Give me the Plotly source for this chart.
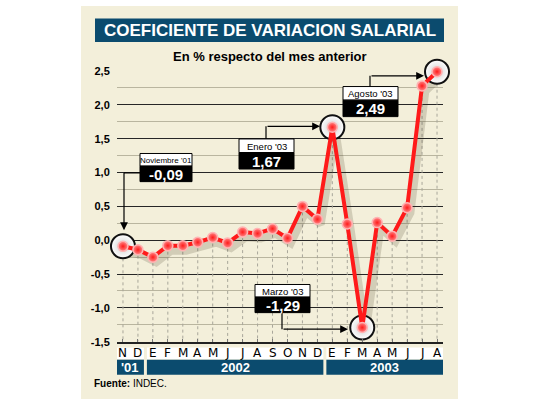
import plotly.graph_objects as go

# ---------------- data ----------------
months = ["N", "D", "E", "F", "M", "A", "M", "J", "J", "A", "S", "O",
          "N", "D", "E", "F", "M", "A", "M", "J", "J", "A"]
values = [-0.09, -0.14, -0.25, -0.08, -0.08, -0.03, 0.04, -0.04, 0.12, 0.10, 0.17, 0.03,
          0.50, 0.31, 1.67, 0.24, -1.29, 0.26, 0.06, 0.48, 2.28, 2.49]
years = ["'01", "2002", "2003"]
year_first = [0, 2, 14]
year_last = [1, 13, 21]
highlight_idx = [0, 14, 16, 21]
highlight_labels = ["Noviembre '01", "Enero '03", "Marzo '03", "Agosto '03"]
y_tickvals = [-1.5, -1.0, -0.5, 0.0, 0.5, 1.0, 1.5, 2.0, 2.5]
y_ticktext = ["-1,5", "-1,0", "-0,5", "0,0", "0,5", "1,0", "1,5", "2,0", "2,5"]

title = "COEFICIENTE DE VARIACION SALARIAL"
subtitle = "En % respecto del mes anterior"
source = "<b>Fuente:</b> INDEC."

# ---------------- styling ----------------
W, H = 540, 405
BEIGE = "#f3efda"
NAVY = "#0b4b6e"
RED = "#ff1a1a"
SANS = "Liberation Sans, Arial, sans-serif"
VERD = "DejaVu Sans, Verdana, sans-serif"


def fx(p):
    return p / W


def fy(p):
    return 1 - p / H


x = list(range(len(values)))
fmt = lambda v: f"{v:.2f}".replace(".", ",")

fig = go.Figure()

# vertical dashed drop lines from each point
dx, dy = [], []
for i, v in zip(x, values):
    dx += [i, i, None]
    dy += [v, y_tickvals[0], None]
fig.add_trace(go.Scatter(x=dx, y=dy, mode="lines",
                         line=dict(color="#a8a69a", width=1, dash="3px,3px"),
                         hoverinfo="skip", showlegend=False))

# shadow of the line
fig.add_trace(go.Scatter(x=[i + 0.22 for i in x], y=[v - 0.075 for v in values], mode="lines",
                         line=dict(color="rgba(60,50,30,0.18)", width=8),
                         hoverinfo="skip", showlegend=False, cliponaxis=False))

# highlight circles
fig.add_trace(go.Scatter(x=[x[i] for i in highlight_idx], y=[values[i] for i in highlight_idx],
                         mode="markers", cliponaxis=False,
                         marker=dict(size=24, color="#ffffff",
                                     gradient=dict(type="radial", color="#cfcfcf"),
                                     line=dict(color="#111111", width=2)),
                         hoverinfo="skip", showlegend=False))

# main line
fig.add_trace(go.Scatter(x=x, y=values, mode="lines+markers", cliponaxis=False,
                         line=dict(color=RED, width=4),
                         marker=dict(size=10, color="#ff8a8a",
                                     gradient=dict(type="radial", color="#ff1a1a"),
                                     line=dict(color="#ffb3b3", width=1.5)),
                         showlegend=False))

shapes = []
annotations = []

# beige panel
shapes.append(dict(type="rect", xref="paper", yref="paper", x0=fx(81), x1=fx(458), y0=0, y1=1,
                   fillcolor=BEIGE, line=dict(width=0), layer="below"))
# title bar
shapes.append(dict(type="rect", xref="paper", yref="paper", x0=fx(95), x1=fx(444), y0=fy(37), y1=fy(13),
                   fillcolor=NAVY, line=dict(width=0)))
annotations.append(dict(text=title, xref="paper", yref="paper", x=fx(269.5), y=fy(25.5),
                        showarrow=False, xanchor="center", yanchor="middle",
                        font=dict(family=SANS, size=17, color="white", weight="bold")))
annotations.append(dict(text=subtitle, xref="paper", yref="paper", x=fx(269.5), y=fy(52),
                        showarrow=False, xanchor="center", yanchor="middle",
                        font=dict(family=SANS, size=13, color="black", weight="bold")))

# month row + year boxes
for lab, a, b in zip(years, year_first, year_last):
    x0 = a - 0.4
    x1 = b + 0.4
    shapes.append(dict(type="rect", xref="x", yref="paper", x0=x0, x1=x1, y0=fy(364), y1=fy(352),
                       fillcolor="white", line=dict(width=0)))
    shapes.append(dict(type="rect", xref="x", yref="paper", x0=x0, x1=x1, y0=fy(380), y1=fy(364.5),
                       fillcolor=NAVY, line=dict(width=0)))
    annotations.append(dict(text=lab, xref="x", yref="paper", x=(x0 + x1) / 2, y=fy(372.5),
                            showarrow=False, xanchor="center", yanchor="middle",
                            font=dict(family=SANS, size=13, color="white", weight="bold")))
for i, m in zip(x, months):
    annotations.append(dict(text=m, xref="x", yref="paper", x=i, y=fy(358),
                            showarrow=False, xanchor="center", yanchor="middle",
                            font=dict(family=VERD, size=12, color="black")))

annotations.append(dict(text=source, xref="paper", yref="paper", x=fx(92), y=fy(389.5),
                        showarrow=False, xanchor="left", yanchor="middle",
                        font=dict(family=SANS, size=10, color="black")))

# callouts: box (x0, x1, ytop, ymid, ybot), elbow segment start/corner, arrow tip (pixels)
callouts = [
    dict(b=(140, 192, 152, 165, 181), s=(140, 172), c=(124, 172), t=(124, 231)),
    dict(b=(239, 294, 137, 151, 168), s=(266, 137), c=(266, 124), t=(320, 124)),
    dict(b=(255, 310, 287, 300, 316), s=(282, 316), c=(282, 333), t=(348, 333)),
    dict(b=(343, 398, 83, 97, 114), s=(370, 83), c=(370, 72), t=(424, 72)),
]
for co, idx, lab in zip(callouts, highlight_idx, highlight_labels):
    x0, x1, yt, ym, yb = co["b"]
    shapes.append(dict(type="rect", xref="paper", yref="paper", x0=fx(x0), x1=fx(x1), y0=fy(ym), y1=fy(yt),
                       fillcolor="white", line=dict(color="black", width=1)))
    shapes.append(dict(type="rect", xref="paper", yref="paper", x0=fx(x0), x1=fx(x1), y0=fy(yb), y1=fy(ym),
                       fillcolor="black", line=dict(color="black", width=1)))
    lab_size = 8 if len(lab) > 11 else 9.5
    annotations.append(dict(text=lab, xref="paper", yref="paper", x=fx((x0 + x1) / 2), y=fy((yt + ym) / 2 + 0.5),
                            showarrow=False, xanchor="center", yanchor="middle",
                            font=dict(family=SANS, size=lab_size, color="black")))
    annotations.append(dict(text=fmt(values[idx]), xref="paper", yref="paper", x=fx((x0 + x1) / 2),
                            y=fy((ym + yb) / 2 + 0.5),
                            showarrow=False, xanchor="center", yanchor="middle",
                            font=dict(family=SANS, size=15, color="white", weight="bold")))
    sx, sy = co["s"]
    cx, cy = co["c"]
    tx, ty = co["t"]
    shapes.append(dict(type="line", xref="paper", yref="paper", x0=fx(sx), y0=fy(sy), x1=fx(cx), y1=fy(cy),
                       line=dict(color="black", width=1.2)))
    annotations.append(dict(text="", xref="paper", yref="paper", x=fx(tx), y=fy(ty),
                            ax=cx - tx, ay=cy - ty, axref="pixel", ayref="pixel",
                            showarrow=True, arrowhead=2, arrowsize=1.3, arrowwidth=1.2,
                            arrowcolor="black", standoff=0, startstandoff=0))

fig.update_layout(
    width=W, height=H,
    margin=dict(l=0, r=0, t=0, b=0),
    paper_bgcolor="white",
    plot_bgcolor="rgba(0,0,0,0)",
    shapes=shapes,
    annotations=annotations,
    showlegend=False,
    xaxis=dict(domain=[fx(117), fx(443)], range=[-0.4, 21.4], showgrid=False, zeroline=False,
               showline=True, linecolor="#222222", linewidth=1.5,
               tickmode="array", tickvals=x, ticks="inside", ticklen=3, tickcolor="#777777",
               showticklabels=False, fixedrange=True),
    yaxis=dict(domain=[fy(346), fy(67)], range=[-1.5, 2.5], tickmode="array",
               tickvals=y_tickvals, ticktext=y_ticktext, zeroline=False,
               showgrid=True, gridcolor="#262626", gridwidth=1.3,
               minor=dict(tickmode="linear", tick0=0, dtick=0.25, showgrid=True,
                          gridcolor="#b9b59f", gridwidth=1),
               ticks="outside", ticklen=4, tickcolor="rgba(0,0,0,0)",
               tickfont=dict(family=SANS, size=11, color="black", weight="bold"),
               fixedrange=True),
)

fig.write_html("out.html")
